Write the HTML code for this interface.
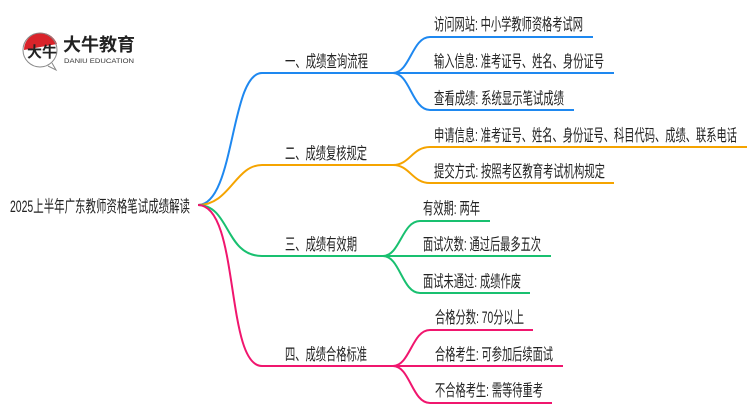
<!DOCTYPE html>
<html><head><meta charset="utf-8"><style>
html,body{margin:0;padding:0;background:#fff;}
svg{display:block}
text{font-family:"Liberation Sans","Noto Sans CJK SC",sans-serif;font-size:16.5px;fill:#222}
</style></head><body>
<svg width="750" height="410" viewBox="0 0 750 410" xmlns="http://www.w3.org/2000/svg">
<!-- logo -->
<path d="M24,50 A17,17 0 0 1 57,44 Z" fill="#d9232a"/>
<circle cx="40" cy="50" r="17" fill="none" stroke="#888" stroke-width="1"/>
<path d="M48,66 L56,70 L52,63" fill="#fff" stroke="#888" stroke-width="1"/>
<text x="27" y="57" style="font-size:15px;font-weight:bold;fill:#222">大牛</text>
<text x="63" y="51" textLength="72" lengthAdjust="spacingAndGlyphs" style="font-size:18px;font-weight:bold;fill:#222">大牛教育</text>
<text x="64" y="63" textLength="70" lengthAdjust="spacingAndGlyphs" style="font-size:6.5px;fill:#333">DANIU EDUCATION</text>

<g fill="none" stroke-width="2">
<path d="M198,205 C235,205 230,73 262,73 L393,73" stroke="#1e88f0"/>
<path d="M393,73 C410,73 412,37 430,37 L593,37 M393,73 L614,73 M393,73 C410,73 412,110 430,110 L574,110" stroke="#1e88f0"/>
<path d="M198,205 C230,205 235,165 262,165 L393,165" stroke="#f5a400"/>
<path d="M393,165 C410,165 412,147 430,147 L747,147 M393,165 C410,165 412,183 430,183 L614,183" stroke="#f5a400"/>
<path d="M198,205 C230,205 225,256 262,256 L383,256" stroke="#19c070"/>
<path d="M383,256 C400,256 402,221 420,221 L490,221 M383,256 L551,256 M383,256 C400,256 402,293 420,293 L530,293" stroke="#19c070"/>
<path d="M198,205 C240,205 225,366 262,366 L393,366" stroke="#f0166e"/>
<path d="M393,366 C410,366 412,330 430,330 L533,330 M393,366 L563,366 M393,366 C410,366 412,403 430,403 L552,403" stroke="#f0166e"/>
</g>

<g>
<text x="10" y="212" textLength="180" lengthAdjust="spacingAndGlyphs">2025上半年广东教师资格笔试成绩解读</text>
<text x="285" y="67" textLength="83" lengthAdjust="spacingAndGlyphs">一、成绩查询流程</text>
<text x="285" y="159" textLength="82" lengthAdjust="spacingAndGlyphs">二、成绩复核规定</text>
<text x="285" y="250" textLength="72" lengthAdjust="spacingAndGlyphs">三、成绩有效期</text>
<text x="285" y="360" textLength="82" lengthAdjust="spacingAndGlyphs">四、成绩合格标准</text>

<text x="434" y="30" textLength="149" lengthAdjust="spacingAndGlyphs">访问网站: 中小学教师资格考试网</text>
<text x="434" y="67" textLength="170" lengthAdjust="spacingAndGlyphs">输入信息: 准考证号、姓名、身份证号</text>
<text x="434" y="104" textLength="130" lengthAdjust="spacingAndGlyphs">查看成绩: 系统显示笔试成绩</text>
<text x="434" y="141" textLength="303" lengthAdjust="spacingAndGlyphs">申请信息: 准考证号、姓名、身份证号、科目代码、成绩、联系电话</text>
<text x="434" y="177" textLength="171" lengthAdjust="spacingAndGlyphs">提交方式: 按照考区教育考试机构规定</text>
<text x="423" y="214" textLength="57" lengthAdjust="spacingAndGlyphs">有效期: 两年</text>
<text x="423" y="250" textLength="118" lengthAdjust="spacingAndGlyphs">面试次数: 通过后最多五次</text>
<text x="423" y="287" textLength="98" lengthAdjust="spacingAndGlyphs">面试未通过: 成绩作废</text>
<text x="435" y="323" textLength="89" lengthAdjust="spacingAndGlyphs">合格分数: 70分以上</text>
<text x="435" y="360" textLength="118" lengthAdjust="spacingAndGlyphs">合格考生: 可参加后续面试</text>
<text x="435" y="396" textLength="108" lengthAdjust="spacingAndGlyphs">不合格考生: 需等待重考</text>
</g>
</svg>
</body></html>
